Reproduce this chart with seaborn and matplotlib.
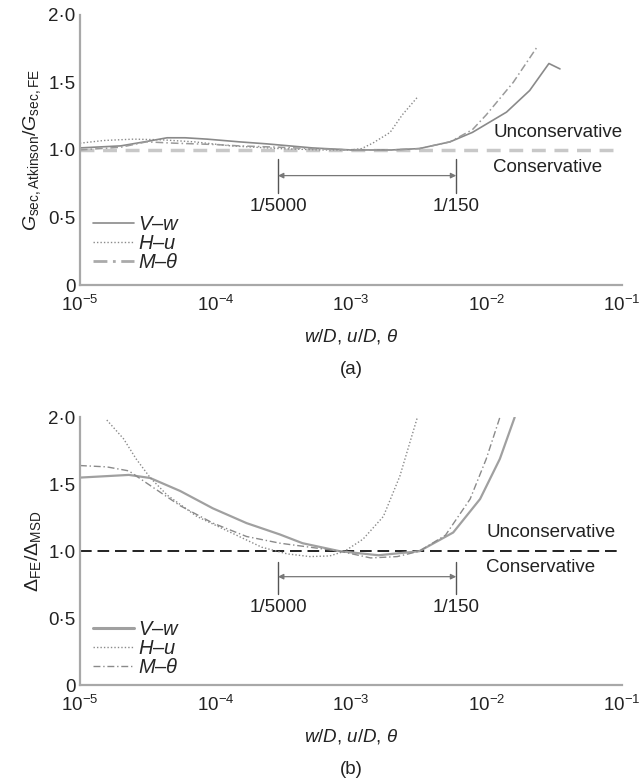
import numpy as np
import pandas as pd
import matplotlib
matplotlib.use("Agg")
import matplotlib.pyplot as plt
import seaborn as sns
from matplotlib.lines import Line2D

sns.set_style("white")
plt.rcParams['font.family'] = ['Liberation Sans', 'DejaVu Sans']
plt.rcParams['mathtext.fontset'] = 'custom'
plt.rcParams['mathtext.rm'] = 'Liberation Sans'
plt.rcParams['mathtext.it'] = 'Liberation Sans:italic'
plt.rcParams['mathtext.bf'] = 'Liberation Sans:bold'

########################################
# data
########################################
# (a) G_sec,Atkinson / G_sec,FE
a_vw_x = [1e-5, 2e-5, 3e-5, 4.4e-5, 6e-5, 8.7e-5, 1.5e-4, 2.4e-4, 5.2e-4, 1e-3,
          2e-3, 3.2e-3, 5.4e-3, 7.9e-3, 1.41e-2, 2.09e-2, 2.9e-2, 3.5e-2]
a_vw_y = [1.015, 1.03, 1.06, 1.09, 1.09, 1.08, 1.06, 1.045, 1.015, 1.0,
          1.0, 1.01, 1.06, 1.13, 1.28, 1.44, 1.64, 1.60]
a_hu_x = [1e-5, 1.5e-5, 2.5e-5, 4e-5, 7e-5, 1.3e-4, 3e-4, 6e-4, 1e-3, 1.2e-3,
          1.45e-3, 1.95e-3, 2.4e-3, 3.1e-3]
a_hu_y = [1.05, 1.07, 1.08, 1.075, 1.06, 1.03, 1.01, 1.0, 1.0, 1.01,
          1.05, 1.13, 1.26, 1.39]
a_mt_x = [1e-5, 2e-5, 3.1e-5, 5e-5, 1e-4, 1.5e-4, 3e-4, 5e-4, 1e-3, 2e-3,
          3.2e-3, 5.4e-3, 7.9e-3, 1e-2, 1.58e-2, 2.4e-2]
a_mt_y = [1.0, 1.02, 1.06, 1.05, 1.04, 1.03, 1.02, 1.01, 1.0, 1.0,
          1.01, 1.06, 1.15, 1.26, 1.50, 1.77]

# (b) Delta_FE / Delta_MSD
b_vw_x = [1e-5, 2.3e-5, 3.3e-5, 5.5e-5, 9.6e-5, 1.7e-4, 3e-4, 4.4e-4, 8.3e-4,
          1.6e-3, 3.2e-3, 5.7e-3, 9e-3, 1.26e-2, 1.62e-2]
b_vw_y = [1.55, 1.57, 1.547, 1.45, 1.32, 1.21, 1.125, 1.06, 1.0,
          0.97, 1.0, 1.14, 1.39, 1.69, 2.0]
b_hu_x = [1.58e-5, 2.1e-5, 2.6e-5, 3.3e-5, 4.4e-5, 7.3e-5, 1.3e-4, 2.2e-4, 3.4e-4,
          5e-4, 7e-4, 9e-4, 1.23e-3, 1.74e-3, 2.3e-3, 3.1e-3]
b_hu_y = [1.98, 1.84, 1.69, 1.55, 1.42, 1.26, 1.14, 1.03, 0.98,
          0.96, 0.965, 1.0, 1.09, 1.26, 1.56, 2.0]
b_mt_x = [1e-5, 1.58e-5, 2.3e-5, 3.1e-5, 5.5e-5, 9.6e-5, 1.7e-4, 3e-4, 5e-4, 8.3e-4,
          1.4e-3, 2.2e-3, 3.2e-3, 5e-3, 7.6e-3, 1e-2, 1.26e-2]
b_mt_y = [1.64, 1.63, 1.60, 1.51, 1.34, 1.21, 1.11, 1.06, 1.03, 1.0,
          0.95, 0.96, 1.0, 1.12, 1.39, 1.69, 2.0]

range_marks = [2.9e-4, 6.0e-3]
range_labels = ["1/5000", "1/150"]
ytick_vals = [0, 0.5, 1.0, 1.5, 2.0]
ytick_labels = ["0", "0·5", "1·0", "1·5", "2·0"]
series_names = ["$V$–$w$", "$H$–$u$", r"$M$–$\theta$"]

########################################
# plotting
########################################
fig = plt.figure(figsize=(6.39, 7.83), dpi=100)
ax_a = fig.add_axes([0.125, 0.636, 0.848, 0.345])
ax_b = fig.add_axes([0.125, 0.125, 0.848, 0.342])

spine_col = "#a8a8a8"
txt_col = "#222222"
fs = 13.5


def style_axes(ax):
    ax.set_xscale("log")
    ax.set_xlim(1e-5, 1e-1)
    ax.set_ylim(0, 2.0)
    ax.set_yticks(ytick_vals)
    ax.set_yticklabels(ytick_labels)
    for s in ["top", "right"]:
        ax.spines[s].set_visible(False)
    for s in ["left", "bottom"]:
        ax.spines[s].set_color(spine_col)
        ax.spines[s].set_linewidth(1.6)
    ax.tick_params(axis="both", which="major", direction="in", length=4,
                   width=0.8, color="#777777", labelsize=fs, labelcolor=txt_col)
    ax.tick_params(axis="x", which="minor", direction="in", length=2.5,
                   width=0.7, color="#777777")
    ax.tick_params(axis="x", which="major", pad=7)
    ax.tick_params(axis="y", which="major", pad=3)
    ax.set_xlabel(r"$w$/$D$, $u$/$D$, $\theta$", fontsize=fs, labelpad=9,
                  color=txt_col)


def add_range(ax, y_arrow, y_lo, y_hi, y_lab):
    for xm, lab in zip(range_marks, range_labels):
        ax.plot([xm, xm], [y_lo, y_hi], color="#555555", lw=1.0)
        ax.text(xm, y_lab, lab, ha="center", va="center", fontsize=fs,
                color=txt_col)
    ax.annotate("", xy=(range_marks[0], y_arrow), xytext=(range_marks[1], y_arrow),
                arrowprops=dict(arrowstyle="<|-|>", color="#777777", lw=0.9,
                                mutation_scale=8, shrinkA=0, shrinkB=0))


# ---- (a) ----
ax = ax_a
ax.axhline(1.0, color="#c8c8c8", lw=2.5, ls=(0, (4, 2.5)), zorder=1)
sns.lineplot(x=a_vw_x, y=a_vw_y, ax=ax, color="#8a8a8a", lw=1.2, sort=False)
sns.lineplot(x=a_hu_x, y=a_hu_y, ax=ax, color="#8a8a8a", lw=1.0, ls=(0, (1, 1.5)), sort=False)
sns.lineplot(x=a_mt_x, y=a_mt_y, ax=ax, color="#9a9a9a", lw=1.1, ls=(0, (5, 2, 1, 2)), sort=False)
style_axes(ax)
ax.set_ylabel(r"$G_{\mathrm{sec,Atkinson}}/G_{\mathrm{sec,FE}}$", fontsize=14, labelpad=4,
              color=txt_col)
add_range(ax, 0.81, 0.68, 0.93, 0.58)
ax.text(1.13e-2, 1.13, "Unconservative", fontsize=fs, va="center", color=txt_col)
ax.text(1.13e-2, 0.87, "Conservative", fontsize=fs, va="center", color=txt_col)
handles_a = [Line2D([], [], color="#8a8a8a", lw=1.2),
             Line2D([], [], color="#8a8a8a", lw=1.0, ls=(0, (1, 1.5))),
             Line2D([], [], color="#aaaaaa", lw=2.0, ls=(0, (5, 2, 1, 2)))]
ax.legend(handles_a, series_names, loc="lower left", bbox_to_anchor=(0.01, 0.02),
          frameon=False, fontsize=14.5, handlelength=2.0, handletextpad=0.2,
          labelspacing=0.0, borderaxespad=0)
fig.text(0.5 + 0.05, 1 - 370 / 783, "(a)", ha="center", va="center", fontsize=fs,
         color=txt_col)

# ---- (b) ----
ax = ax_b
ax.axhline(1.0, color="#222222", lw=1.4, ls=(0, (6, 3)), zorder=1)
sns.lineplot(x=b_vw_x, y=b_vw_y, ax=ax, color="#a0a0a0", lw=1.6, sort=False)
sns.lineplot(x=b_hu_x, y=b_hu_y, ax=ax, color="#8a8a8a", lw=1.0, ls=(0, (1, 1.5)), sort=False)
sns.lineplot(x=b_mt_x, y=b_mt_y, ax=ax, color="#8a8a8a", lw=1.0, ls=(0, (5, 2, 1, 2)), sort=False)
style_axes(ax)
ax.set_ylabel(r"$\Delta_{\mathrm{FE}}/\Delta_{\mathrm{MSD}}$", fontsize=14, labelpad=4,
              color=txt_col)
add_range(ax, 0.81, 0.68, 0.92, 0.58)
ax.text(1.0e-2, 1.14, "Unconservative", fontsize=fs, va="center", color=txt_col)
ax.text(1.0e-2, 0.88, "Conservative", fontsize=fs, va="center", color=txt_col)
handles_b = [Line2D([], [], color="#a0a0a0", lw=2.2),
             Line2D([], [], color="#8a8a8a", lw=1.0, ls=(0, (1, 1.5))),
             Line2D([], [], color="#8a8a8a", lw=1.0, ls=(0, (5, 2, 1, 2)))]
ax.legend(handles_b, series_names, loc="lower left", bbox_to_anchor=(0.01, 0.0),
          frameon=False, fontsize=14.5, handlelength=2.0, handletextpad=0.2,
          labelspacing=0.0, borderaxespad=0)
fig.text(0.5 + 0.05, 1 - 770 / 783, "(b)", ha="center", va="center", fontsize=fs,
         color=txt_col)

fig.savefig("out.png", dpi=100)
